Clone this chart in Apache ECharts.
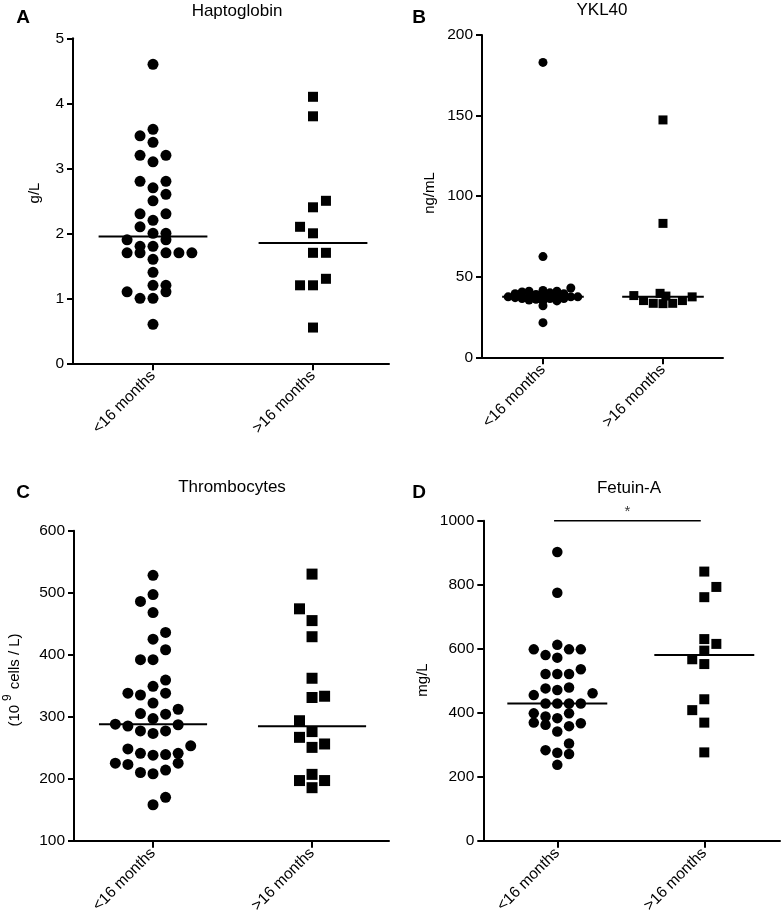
<!DOCTYPE html>
<html><head><meta charset="utf-8">
<script src="https://cdn.jsdelivr.net/npm/echarts@6/dist/echarts.min.js"></script>
<style>html,body{margin:0;padding:0;background:#fff}#c{width:782px;height:923px}</style>
</head><body><div id="c"></div>
<script>
// ---------- data ----------
const groups = ['<16 months', '>16 months'];

// A: Haptoglobin (g/L)
const hapTicks = [0, 1, 2, 3, 4, 5];
const hapLow  = [4.6,3.6,3.5,3.4,3.2,3.2,3.1,2.8,2.8,2.7,2.6,2.5,2.3,2.3,2.2,2.1,2.0,2.0,1.9,1.9,1.8,1.8,1.7,1.7,1.7,1.7,1.7,1.6,1.4,1.2,1.2,1.1,1.1,1.0,1.0,0.6];
const hapLowCol = [0,0,-1,0,-1,1,0,-1,1,0,1,0,-1,1,0,-1,0,1,-2,1,-1,0,-2,-1,1,2,3,0,0,0,1,-2,1,-1,0,0];
const hapHigh = [4.1,3.8,2.5,2.4,2.1,2.0,1.7,1.7,1.3,1.2,1.2,0.55];
const hapHighCol = [0,0,1,0,-1,0,0,1,1,-1,0,0];

// B: YKL40 (ng/mL)
const yklTicks = [0, 50, 100, 150, 200];
const yklLow  = [183,62.5,32,21.5,37.5,39.5,37,40.5,36.5,41,38,35.5,39,36,41.5,38.5,35,40,36.5,41,37.6,35,39.5,36.5,43,37.5,37.5];
const yklLowCol = [0,0,0,0,-5,-4,-4,-3,-3,-2,-2,-2,-1,-1,0,0,0,1,1,2,2,2,3,3,4,4,5];
const yklHigh = [147.3,83.1,38.3,35.2,33.5,39.7,38,33.3,33.5,35.2,37.5];
const yklHighCol = [0,0,-3,-2,-1,-0.3,0.3,0,1,2,3];

// C: Thrombocytes (10^9 cells / L)
const thrTicks = [100, 200, 300, 400, 500, 600];
const thrLow  = [528,497,486,468,436,425,408,392,392,359,349,338,335,338,322,312,305,304,297,288,285,287,277,273,277,253,248,241,238,239,241,225,223,225,210,208,214,170,158];
const thrLowCol = [0,0,-1,0,1,0,1,-1,0,1,0,-2,-1,1,0,2,-1,1,0,-3,-2,2,-1,0,1,3,-2,-1,0,1,2,-3,-2,2,-1,0,1,1,0];
const thrHigh = [530,474,455,429,362,331,333,293.5,276,266.7,250.5,256,207,197,197,185.5];
const thrHighCol = [0,-1,0,0,0,0,1,-1,0,-1,0,1,0,-1,1,0];

// D: Fetuin-A (mg/L)
const fetTicks = [0, 200, 400, 600, 800, 1000];
const fetLow  = [902,775,612,598,580,572,598,598,536,521,521,521,476,471,479,455,461,429,429,429,429,398,369,388,362,383,398,358,367,341,304,283,275,271,237];
const fetLowCol = [0,0,0,-2,-1,0,1,2,2,-1,0,1,-1,0,1,-2,3,-1,0,1,2,-2,-2,-1,-1,0,1,1,2,0,1,-1,0,1,0];
const fetHigh = [841,793,761,630,615,594,567,552,442,408,369,276];
const fetHighCol = [0,1,0,0,1,0,-1,0,0,-1,0,0];
const fetSignif = '*';

// ---------- layout ----------
const panels = [
  {title:'Haptoglobin', letter:'A', yName:'g/L', low:hapLow, lowCol:hapLowCol, high:hapHigh, highCol:hapHighCol, ticks:hapTicks,
   grid:{left:73, top:38.3, width:316, height:325}, xMin:0.5, xMax:2.475, stepLow:0.081, stepHigh:0.081, dot:11, sq:10,
   titlePos:[237,11], letterPos:[23,18], namePos:[35,193]},
  {title:'YKL40', letter:'B', yName:'ng/mL', low:yklLow, lowCol:yklLowCol, high:yklHigh, highCol:yklHighCol, ticks:yklTicks,
   grid:{left:482, top:35, width:241, height:322.3}, xMin:0.492, xMax:2.5, stepLow:0.058, stepHigh:0.081, dot:9, sq:9,
   titlePos:[602,10], letterPos:[419,18], namePos:[430,193]},
  {title:'Thrombocytes', letter:'C', yName:null, low:thrLow, lowCol:thrLowCol, high:thrHigh, highCol:thrHighCol, ticks:thrTicks,
   grid:{left:74, top:530.7, width:315, height:310}, xMin:0.503, xMax:2.484, stepLow:0.079, stepHigh:0.079, dot:11, sq:11,
   titlePos:[232,487], letterPos:[23,493], namePos:[15,680]},
  {title:'Fetuin-A', letter:'D', yName:'mg/L', low:fetLow, lowCol:fetLowCol, high:fetHigh, highCol:fetHighCol, ticks:fetTicks,
   grid:{left:483.3, top:520.7, width:296.7, height:320}, xMin:0.4966, xMax:2.515, stepLow:0.080, stepHigh:0.082, dot:10.5, sq:10,
   titlePos:[629,488], letterPos:[419,493], namePos:[423,680], signif:true}
];

const FONT = '"Liberation Sans", Arial, Helvetica, sans-serif';
function pts(vals, cols, g, step){ return vals.map((v,i)=>[g + cols[i]*step, v]); }
function median(a){ const s=[...a].sort((x,y)=>x-y); const n=s.length; return n%2 ? s[(n-1)/2] : (s[n/2-1]+s[n/2])/2; }
const HALF = 0.34;

const grid=[], xAxis=[], yAxis=[], series=[], graphic=[];
panels.forEach((p,i)=>{
  grid.push(Object.assign({containLabel:false}, p.grid));
  xAxis.push({type:'value', gridIndex:i, min:p.xMin, max:p.xMax, splitLine:{show:false},
    axisLine:{show:true, onZero:false, lineStyle:{color:'#000', width:2}},
    axisTick:{show:true, customValues:[1,2], length:7, lineStyle:{color:'#000', width:2}},
    axisLabel:{show:true, customValues:[1,2], rotate:45, margin:10, color:'#000', fontSize:15.5, fontFamily:FONT,
      formatter:v=>groups[Math.round(v)-1]}});
  const t = p.ticks;
  yAxis.push({type:'value', gridIndex:i, min:t[0], max:t[t.length-1], interval:t[1]-t[0], splitLine:{show:false},
    axisLine:{show:true, onZero:false, lineStyle:{color:'#000', width:2}},
    axisTick:{show:true, length:6, lineStyle:{color:'#000', width:2}},
    axisLabel:{show:true, margin:9, color:'#000', fontSize:15.5, fontFamily:FONT, formatter:v=>String(v)}});
  series.push({type:'scatter', xAxisIndex:i, yAxisIndex:i, symbol:'circle', symbolSize:p.dot,
    itemStyle:{color:'#000', opacity:1}, data:pts(p.low, p.lowCol, 1, p.stepLow), clip:false, z:3});
  series.push({type:'scatter', xAxisIndex:i, yAxisIndex:i, symbol:'rect', symbolSize:p.sq,
    itemStyle:{color:'#000', opacity:1}, data:pts(p.high, p.highCol, 2, p.stepHigh), clip:false, z:3});
  [[p.low,1],[p.high,2]].forEach(([arr,g])=>{
    const m = median(arr);
    series.push({type:'line', xAxisIndex:i, yAxisIndex:i, symbol:'none', clip:false, silent:true, z:4,
      lineStyle:{color:'#000', width:2}, data:[[g-HALF, m],[g+HALF, m]]});
  });
  if (p.signif){
    const top = t[t.length-1];
    series.push({type:'line', xAxisIndex:i, yAxisIndex:i, symbol:'none', clip:false, silent:true, z:4,
      lineStyle:{color:'#000', width:1.5}, data:[[0.978, top],[1.976, top]]});
    series.push({type:'scatter', xAxisIndex:i, yAxisIndex:i, symbolSize:0, clip:false, silent:true,
      data:[[(0.978+1.976)/2, top]],
      label:{show:true, position:'top', distance:1, formatter:fetSignif, color:'#000', fontSize:15, fontFamily:FONT}});
  }
  graphic.push({type:'text', x:p.titlePos[0], y:p.titlePos[1],
    style:{text:p.title, fill:'#000', font:'17px '+FONT, align:'center', verticalAlign:'middle'}});
  graphic.push({type:'text', x:p.letterPos[0], y:p.letterPos[1],
    style:{text:p.letter, fill:'#000', font:'bold 19px '+FONT, align:'center', verticalAlign:'middle'}});
  if (p.yName){
    graphic.push({type:'text', x:p.namePos[0], y:p.namePos[1], rotation:Math.PI/2,
      style:{text:p.yName, fill:'#000', font:'15px '+FONT, align:'center', verticalAlign:'middle'}});
  } else {
    graphic.push({type:'text', x:p.namePos[0], y:p.namePos[1], rotation:Math.PI/2,
      style:{text:'{a|(10}{s|9}{a|cells / L)}', fill:'#000', align:'center', verticalAlign:'middle',
        rich:{a:{fontSize:15, fontFamily:FONT, lineHeight:26, fill:'#000'},
              s:{fontSize:12, fontFamily:FONT, lineHeight:12, verticalAlign:'top', padding:[0,5,0,4], fill:'#000'}}}});
  }
});

const chart = echarts.init(document.getElementById('c'), null, {renderer:'canvas'});
chart.setOption({animation:false, backgroundColor:'#fff', grid, xAxis, yAxis, series, graphic});
</script></body></html>
